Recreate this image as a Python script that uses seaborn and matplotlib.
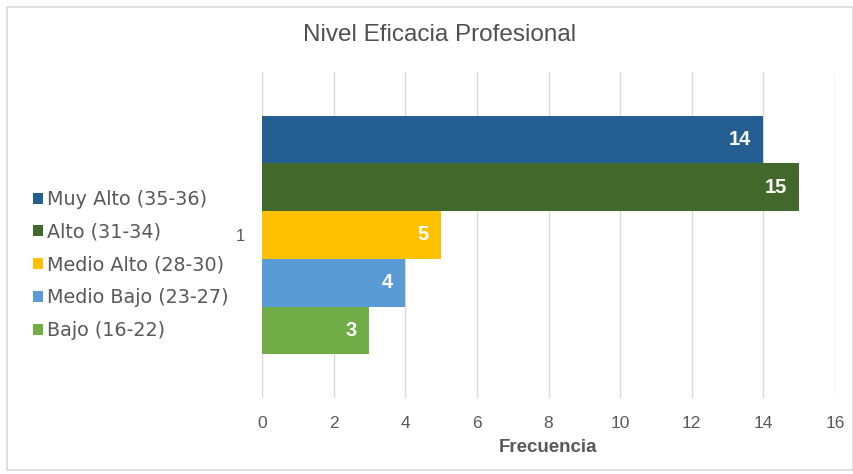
import matplotlib
matplotlib.use("Agg")
import matplotlib.pyplot as plt
import seaborn as sns
import pandas as pd
from matplotlib.patches import Rectangle

categories = ["1"]
series = ["Muy Alto (35-36)", "Alto (31-34)", "Medio Alto (28-30)", "Medio Bajo (23-27)", "Bajo (16-22)"]
values = [14, 15, 5, 4, 3]
colors = ["#255E91", "#43682B", "#FFC000", "#5B9BD5", "#70AD47"]
xticks = [0, 2, 4, 6, 8, 10, 12, 14, 16]

df = pd.DataFrame({"cat": categories * len(series), "serie": series, "valor": values})

sns.set_theme(style="white")
plt.rcParams["font.family"] = ["Liberation Sans", "DejaVu Sans"]
gray = "#595959"
wide = ["DejaVu Sans"]

fig = plt.figure(figsize=(8.54, 4.74), dpi=100)
ax = fig.add_axes([262/854, 1-398/474, (835-262)/854, (398-72)/474])

sns.barplot(data=df, y="cat", x="valor", hue="serie", hue_order=series,
            palette=colors, orient="h", width=0.733, ax=ax, saturation=1,
            edgecolor="none", linewidth=0)

ax.set_xlim(0, 16)
ax.set_ylim(0.5, -0.5)
ax.set_xticks(xticks)
ax.set_xticklabels([str(t) for t in xticks], color=gray, fontsize=12.5)
ax.tick_params(axis="x", length=0, pad=13)
ax.tick_params(axis="y", length=0, pad=12, labelsize=12, labelcolor=gray)
ax.xaxis.grid(True, color="#D9D9D9", linewidth=1)
ax.set_axisbelow(True)
for s in ax.spines.values():
    s.set_visible(False)
ax.set_ylabel("")
ax.set_xlabel("Frecuencia", fontsize=13.5, fontweight="bold", color=gray, labelpad=6)

for cont in ax.containers:
    for rect, v in zip(cont.patches, cont.datavalues):
        ax.annotate(f"{int(v)}", xy=(rect.get_x() + rect.get_width(), rect.get_y() + rect.get_height()/2),
                    xytext=(-9, 0), textcoords="offset points", ha="right", va="center",
                    color="white", fontsize=14.5, fontweight="bold")

handles, labels = ax.get_legend_handles_labels()
leg = ax.legend(handles, labels, loc="center left", bbox_to_anchor=(33/854, 1-265/474),
          bbox_transform=fig.transFigure, frameon=False,
          prop={"family": wide, "size": 13.8},
          labelcolor=gray, handlelength=0.52, handleheight=0.52, handletextpad=0.2,
          labelspacing=0.72, borderpad=0, borderaxespad=0)

fig.text(440/854, 1-35/474, "Nivel Eficacia Profesional", ha="center", va="center",
         fontsize=17.5, color="#505050", fontweight="medium")

fig.patches.append(Rectangle((7/854, 4/474), 846/854, 463/474, transform=fig.transFigure,
                             fill=False, edgecolor="#D9D9D9", linewidth=1.2))

fig.savefig("out.png", dpi=100)
